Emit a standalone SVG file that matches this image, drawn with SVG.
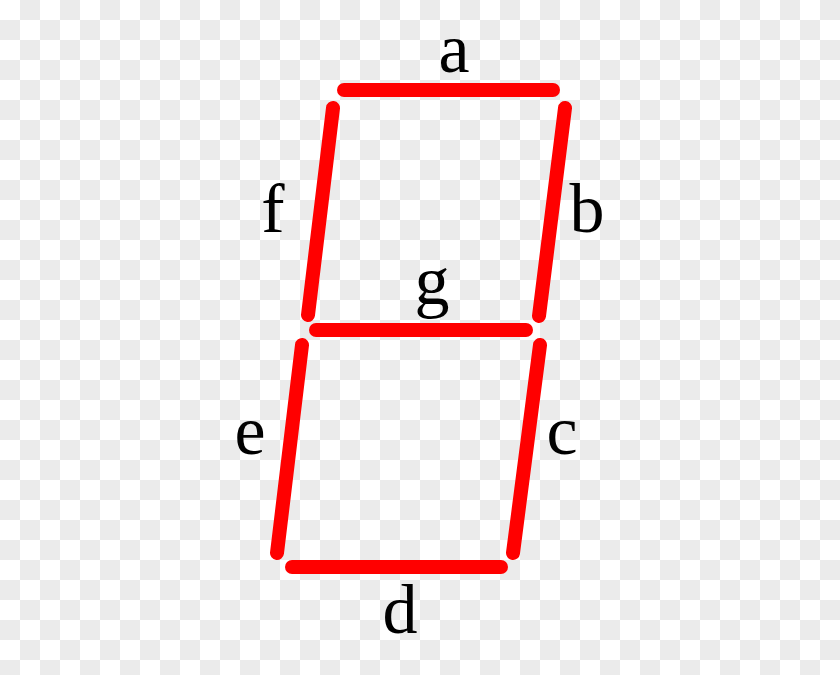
<svg xmlns="http://www.w3.org/2000/svg" width="840" height="675" viewBox="0 0 840 675">
  <defs>
    <pattern id="chk" width="40" height="40" patternUnits="userSpaceOnUse">
      <rect width="40" height="40" fill="#ffffff"/>
      <rect x="20" y="0" width="20" height="20" fill="#ebebeb"/>
      <rect x="0" y="20" width="20" height="20" fill="#ebebeb"/>
    </pattern>
    <style>
      .seg { stroke: #ff0000; stroke-width: 14; stroke-linecap: round; fill: none; }
      .lbl { font-family: "Liberation Serif", "Times New Roman", serif; font-size: 70px; fill: #000; text-anchor: middle; }
    </style>
  </defs>
  <rect width="840" height="675" fill="url(#chk)"/>
  <g id="connectors">
    <line id="seg-a" class="seg" x1="344" y1="90" x2="553" y2="90"/>
    <line id="seg-b" class="seg" x1="565" y1="108" x2="539" y2="316"/>
    <line id="seg-c" class="seg" x1="540" y1="345" x2="513" y2="553"/>
    <line id="seg-d" class="seg" x1="292" y1="567" x2="501" y2="567"/>
    <line id="seg-e" class="seg" x1="302" y1="345" x2="277" y2="553"/>
    <line id="seg-f" class="seg" x1="333" y1="108" x2="308" y2="315"/>
    <line id="seg-g" class="seg" x1="316" y1="330" x2="526" y2="330"/>
  </g>
  <g id="label-a"><text class="lbl" x="454" y="72">a</text></g>
  <g id="label-b"><text class="lbl" x="587" y="232">b</text></g>
  <g id="label-c"><text class="lbl" x="562" y="454">c</text></g>
  <g id="label-d"><text class="lbl" x="400" y="633">d</text></g>
  <g id="label-e"><text class="lbl" x="250" y="454">e</text></g>
  <g id="label-f"><text class="lbl" x="273" y="232">f</text></g>
  <g id="label-g"><text class="lbl" x="432" y="304">g</text></g>
</svg>
